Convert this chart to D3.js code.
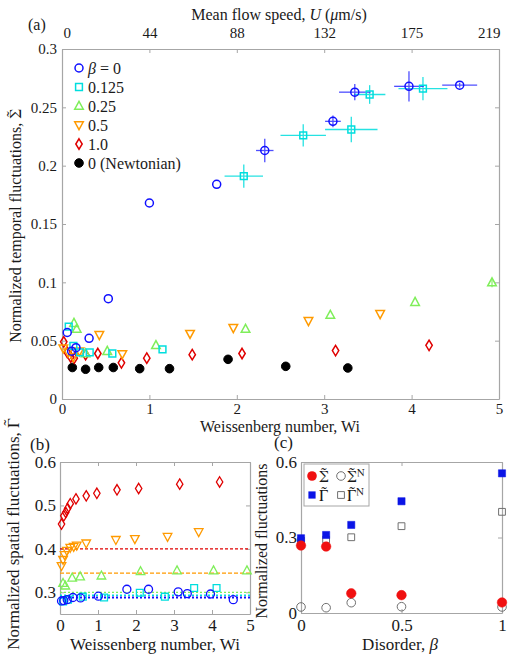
<!DOCTYPE html>
<html><head><meta charset="utf-8">
<script src="https://cdn.jsdelivr.net/npm/d3@7"></script>
<style>
body{margin:0;background:#fff}
</style>
</head><body>
<svg id="chart" width="508" height="664"></svg>
<script>
// ---------- DATA ----------
const wiTicks = [0, 1, 2, 3, 4, 5];
const wiTickLabels = ["0", "1", "2", "3", "4", "5"];
const uTickLabels = ["0", "44", "88", "132", "175", "219"];
const sigmaTicks = [0, 0.05, 0.1, 0.15, 0.2, 0.25, 0.3];
const sigmaTickLabels = ["0", "0.05", "0.1", "0.15", "0.2", "0.25", "0.3"];
const gammaTicks = [0.3, 0.4, 0.5, 0.6];
const gammaTickLabels = ["0.3", "0.4", "0.5", "0.6"];
const cYTicks = [0, 0.3, 0.6];
const cYTickLabels = ["0", "0.3", "0.6"];
const cXTicks = [0, 0.5, 1];
const cXTickLabels = ["0", "0.5", "1"];

const legendLabelsA = ["β = 0", "0.125", "0.25", "0.5", "1.0", "0 (Newtonian)"];

// panel (a): [Wi, Sigma]
const a_beta0 = [[0.06,0.057],[0.11,0.041],[0.16,0.044],[0.31,0.052],[0.53,0.086],[1.0,0.168],[1.77,0.184],[2.32,0.213],[3.10,0.238],[3.35,0.263],[3.97,0.268],[4.55,0.269]];
const a_beta0_err = [[0,0],[0,0],[0,0],[0,0],[0,0],[0,0],[0,0],[0.1,0.010],[0.09,0.005],[0.18,0.007],[0.17,0.013],[0.2,0.002]];
const a_beta0125 = [[0.077,0.062],[0.13,0.0455],[0.206,0.040],[0.317,0.040],[0.576,0.039],[1.15,0.0426],[2.08,0.191],[2.76,0.226],[3.31,0.231],[3.52,0.261],[4.13,0.266]];
const a_beta0125_err = [[0,0],[0,0],[0,0],[0,0],[0,0],[0,0],[0.22,0.010],[0.26,0.0095],[0.30,0.011],[0.18,0.008],[0.28,0.010]];
const a_beta025 = [[0.137,0.065],[0.168,0.060],[0.27,0.039],[0.518,0.041],[1.075,0.046],[2.10,0.060],[3.07,0.072],[4.04,0.083],[4.92,0.0998]];
const a_beta025_err = [[0,0],[0,0],[0,0],[0,0],[0,0],[0,0],[0,0],[0,0],[0,0.004]];
const a_beta05 = [[0.015,0.0435],[0.07,0.040],[0.13,0.036],[0.20,0.041],[0.427,0.055],[0.69,0.0386],[1.465,0.056],[1.96,0.061],[2.82,0.067],[3.64,0.073]];
const a_beta1 = [[0.02,0.049],[0.06,0.040],[0.10,0.036],[0.14,0.035],[0.27,0.038],[0.41,0.039],[0.68,0.031],[0.97,0.035],[1.49,0.038],[2.06,0.039],[3.13,0.0415],[4.20,0.046]];
const a_newt = [[0.118,0.027],[0.27,0.0255],[0.42,0.027],[0.587,0.027],[0.889,0.026],[1.23,0.026],[1.90,0.034],[2.56,0.028],[3.27,0.0266]];

// panel (b): [Wi, Gamma]
const b_beta0 = [[0.04,0.280],[0.10,0.281],[0.19,0.283],[0.34,0.288],[0.54,0.287],[1.01,0.291],[1.76,0.307],[2.33,0.307],[3.11,0.301],[3.35,0.297],[3.96,0.296],[4.56,0.283]];
const b_beta0125 = [[0.08,0.279],[0.21,0.283],[0.60,0.290],[1.16,0.288],[2.10,0.299],[2.76,0.290],[3.53,0.310],[4.12,0.310]];
const b_beta025 = [[0.08,0.321],[0.14,0.315],[0.32,0.333],[0.53,0.336],[1.09,0.338],[2.12,0.348],[3.08,0.350],[4.04,0.350],[4.92,0.350]];
const b_beta05 = [[0.04,0.361],[0.08,0.375],[0.12,0.386],[0.18,0.396],[0.27,0.403],[0.36,0.405],[0.44,0.408],[0.69,0.413],[1.47,0.421],[1.97,0.423],[2.83,0.428],[3.65,0.439]];
const b_beta1 = [[0.04,0.457],[0.10,0.476],[0.15,0.484],[0.20,0.493],[0.27,0.504],[0.42,0.515],[0.69,0.522],[0.97,0.528],[1.50,0.536],[2.07,0.539],[3.15,0.549],[4.20,0.554]];
const b_newtLevels = [0.288, 0.293, 0.300, 0.344, 0.400]; // beta 0, 0.125, 0.25, 0.5, 1

// panel (c)
const c_beta = [0, 0.125, 0.25, 0.5, 1];
const c_sigma = [0.268, 0.264, 0.078, 0.071, 0.042];
const c_sigmaN = [0.024, 0.021, 0.041, 0.025, 0.024];
const c_gamma = [0.297, 0.310, 0.350, 0.444, 0.555];
const c_gammaN = [0.287, 0.292, 0.301, 0.345, 0.402];

// ---------- STYLE ----------
const FONT = "Liberation Serif";
const GFONT = "FreeSerif";   // for tilde-accented Greek symbols
const COL = {b0:"#1010ff", b0125:"#00dede", b025:"#7fee5a", b05:"#ff9a00", b1:"#e00000", newt:"#000000"};
const AXC = "#a6a6a6";
const svg = d3.select("#chart");

function markerPath(type, s) {
  switch (type) {
    case "circle": return `M${s},0A${s},${s} 0 1,1 ${-s},0A${s},${s} 0 1,1 ${s},0Z`;
    case "square": return `M${-s},${-s}H${s}V${s}H${-s}Z`;
    case "tri": return `M0,${-s*1.1}L${s},${s*0.75}L${-s},${s*0.75}Z`;
    case "itri": return `M0,${s*1.1}L${s},${-s*0.75}L${-s},${-s*0.75}Z`;
    case "diamond": return `M0,${-s*1.3}L${s*0.8},0L0,${s*1.3}L${-s*0.8},0Z`;
  }
}
function drawMarkers(g, data, x, y, type, color, size, filled, sw) {
  g.append("g").selectAll("path").data(data).join("path")
    .attr("transform", d => `translate(${x(d[0])},${y(d[1])})`)
    .attr("d", markerPath(type, size))
    .attr("fill", filled ? color : "none")
    .attr("stroke", color).attr("stroke-width", sw || 1.5);
}
function drawErr(g, data, err, x, y, color) {
  const gg = g.append("g").attr("stroke", color).attr("stroke-width", 1.3).attr("opacity", 0.85);
  data.forEach((d, i) => {
    const e = err[i];
    if (e[0] > 0) gg.append("line").attr("x1", x(d[0]-e[0])).attr("x2", x(d[0]+e[0])).attr("y1", y(d[1])).attr("y2", y(d[1]));
    if (e[1] > 0) gg.append("line").attr("x1", x(d[0])).attr("x2", x(d[0])).attr("y1", y(d[1]-e[1])).attr("y2", y(d[1]+e[1]));
  });
}
function styleAxis(g, fs) {
  g.attr("font-family", FONT).attr("font-size", fs);
  g.selectAll(".domain").attr("stroke", AXC).attr("stroke-width", 1.2);
  g.selectAll(".tick line").attr("stroke", AXC).attr("stroke-width", 1);
  g.selectAll(".tick text").attr("fill", "#1a1a1a").attr("font-family", FONT).attr("font-size", fs);
}
function frame(x, y, xt, xl, yt, yl, fs, padX, padY, topLabels, padTop) {
  const [x0, x1] = x.range(), [y0, y1] = y.range();
  const gb = svg.append("g").attr("transform", `translate(0,${y0})`)
    .call(d3.axisBottom(x).tickValues(xt).tickFormat((d,i)=>xl[i]).tickSize(-4).tickSizeOuter(0).tickPadding(padX));
  styleAxis(gb, fs);
  const gl = svg.append("g").attr("transform", `translate(${x0},0)`)
    .call(d3.axisLeft(y).tickValues(yt).tickFormat((d,i)=>yl[i]).tickSize(-4).tickSizeOuter(0).tickPadding(padY));
  styleAxis(gl, fs);
  const gt = svg.append("g").attr("transform", `translate(0,${y1})`)
    .call(d3.axisTop(x).tickValues(xt).tickFormat((d,i)=>topLabels ? topLabels[i] : "").tickSize(-4).tickSizeOuter(0).tickPadding(padTop || 3));
  styleAxis(gt, fs);
  const gr = svg.append("g").attr("transform", `translate(${x1},0)`)
    .call(d3.axisRight(y).tickValues(yt).tickFormat(() => "").tickSize(-4).tickSizeOuter(0));
  styleAxis(gr, fs);
  return gt;
}
function txt(x, y, str, fs, anchor, rot) {
  const t = svg.append("text").attr("x", x).attr("y", y).attr("text-anchor", anchor || "start")
    .attr("font-family", FONT).attr("font-size", fs).attr("fill", "#1a1a1a").text(str);
  if (rot) t.attr("transform", `rotate(${rot},${x},${y})`);
  return t;
}

// ---------- PANEL (a) ----------
const xa = d3.scaleLinear().domain([0, 5]).range([62, 499]);
const ya = d3.scaleLinear().domain([0, 0.3]).range([399, 49]);
const topAx = frame(xa, ya, wiTicks, wiTickLabels, sigmaTicks, sigmaTickLabels, 15, 4, 5, uTickLabels, 11);
const topTexts = topAx.selectAll(".tick text").nodes();
d3.select(topTexts[0]).attr("text-anchor", "start").attr("x", 1);
d3.select(topTexts[topTexts.length - 1]).attr("text-anchor", "end").attr("x", 1);

const ga = svg.append("g");
drawErr(ga, a_beta0125, a_beta0125_err, xa, ya, COL.b0125);
drawErr(ga, a_beta0, a_beta0_err, xa, ya, "#3030ff");
drawErr(ga, a_beta025, a_beta025_err, xa, ya, COL.b025);
drawMarkers(ga, a_newt, xa, ya, "circle", COL.newt, 4.3, true, 1);
drawMarkers(ga, a_beta1, xa, ya, "diamond", COL.b1, 4, false);
drawMarkers(ga, a_beta05, xa, ya, "itri", COL.b05, 4.3, false);
drawMarkers(ga, a_beta025, xa, ya, "tri", COL.b025, 4.3, false);
drawMarkers(ga, a_beta0125, xa, ya, "square", COL.b0125, 3.4, false);
drawMarkers(ga, a_beta0, xa, ya, "circle", COL.b0, 4, false);

// legend (a)
const legTypes = [["circle",COL.b0,4,false],["square",COL.b0125,3.4,false],["tri",COL.b025,4.3,false],["itri",COL.b05,4.3,false],["diamond",COL.b1,4,false],["circle",COL.newt,4.3,true]];
legendLabelsA.forEach((lab, i) => {
  const cy = 68 + i * 19;
  const t = legTypes[i];
  svg.append("path").attr("transform", `translate(79,${cy})`).attr("d", markerPath(t[0], t[2]))
    .attr("fill", t[3] ? t[1] : "none").attr("stroke", t[1]).attr("stroke-width", t[3] ? 1 : 1.5);
  if (i === 0) {
    const tx = txt(88, cy + 5.5, "", 16);
    tx.append("tspan").attr("font-style", "italic").text("β");
    tx.append("tspan").text(" = 0");
  } else txt(88, cy + 5.5, lab, 16);
});

// titles (a)
txt(28, 30, "(a)", 16);
const tt = txt(279, 20, "", 16, "middle");
tt.append("tspan").text("Mean flow speed, ");
tt.append("tspan").attr("font-style", "italic").text("U");
tt.append("tspan").text(" (");
tt.append("tspan").attr("font-style", "italic").text("μ");
tt.append("tspan").text("m/s)");
txt(280, 432, "Weissenberg number, Wi", 16, "middle");
const yta = txt(21, 226, "Normalized temporal fluctuations, ", 16, "middle", -90);
yta.append("tspan").attr("font-family", GFONT).text("Σ̃");

// ---------- PANEL (b) ----------
const xb = d3.scaleLinear().domain([0, 5]).range([60, 250]);
const yb = d3.scaleLinear().domain([0.25, 0.6]).range([614, 462]);
frame(xb, yb, wiTicks, wiTickLabels, gammaTicks, gammaTickLabels, 17, 5, 4);
const gbp = svg.append("g");
const lineCols = [COL.b0, COL.b0125, COL.b025, COL.b05, COL.b1];
const dashes = ["2,2", "2,2", "2,2", "4,2", "3,2"];
const widths = [2, 1.5, 1.3, 1.2, 1.2];
b_newtLevels.forEach((v, i) => {
  gbp.append("line").attr("x1", xb(0)).attr("x2", xb(5)).attr("y1", yb(v)).attr("y2", yb(v))
    .attr("stroke", lineCols[i]).attr("stroke-width", widths[i]).attr("stroke-dasharray", dashes[i]);
});
drawMarkers(gbp, b_beta1, xb, yb, "diamond", COL.b1, 4, false, 1.3);
drawMarkers(gbp, b_beta05, xb, yb, "itri", COL.b05, 4.3, false, 1.3);
drawMarkers(gbp, b_beta025, xb, yb, "tri", COL.b025, 4.3, false, 1.3);
drawMarkers(gbp, b_beta0125, xb, yb, "square", COL.b0125, 3.4, false, 1.3);
drawMarkers(gbp, b_beta0, xb, yb, "circle", COL.b0, 4, false, 1.3);
txt(30, 450, "(b)", 17);
txt(155, 650, "Weissenberg number, Wi", 17, "middle");
const ytb = txt(19, 534, "Normalized spatial fluctuations, ", 17, "middle", -90);
ytb.append("tspan").attr("font-family", GFONT).text("Γ̃");

// ---------- PANEL (c) ----------
const xc = d3.scaleLinear().domain([0, 1]).range([301, 502]);
const yc = d3.scaleLinear().domain([0, 0.6]).range([613, 462]);
frame(xc, yc, cXTicks, cXTickLabels, cYTicks, cYTickLabels, 17, 6, 4);
const gc = svg.append("g");
const cSig = c_beta.map((b, i) => [b, c_sigma[i]]);
const cSigN = c_beta.map((b, i) => [b, c_sigmaN[i]]);
const cGam = c_beta.map((b, i) => [b, c_gamma[i]]);
const cGamN = c_beta.map((b, i) => [b, c_gammaN[i]]);
drawMarkers(gc, cGamN, xc, yc, "square", "#707070", 3.4, false, 1);
drawMarkers(gc, cSigN, xc, yc, "circle", "#707070", 4.3, false, 1);
drawMarkers(gc, cGam, xc, yc, "square", "#0a14e6", 3.6, true, 0.5);
drawMarkers(gc, cSig, xc, yc, "circle", "#f01010", 4.8, true, 0.5);

// legend (c)
svg.append("rect").attr("x", 304).attr("y", 464).attr("width", 65).attr("height", 42)
  .attr("fill", "#fff").attr("stroke", AXC).attr("stroke-width", 1);
svg.append("path").attr("transform", "translate(312,476)").attr("d", markerPath("circle", 4.8)).attr("fill", "#f01010");
svg.append("path").attr("transform", "translate(341,476)").attr("d", markerPath("circle", 4.3)).attr("fill", "none").attr("stroke", "#707070");
svg.append("path").attr("transform", "translate(312,495)").attr("d", markerPath("square", 3.6)).attr("fill", "#0a14e6");
svg.append("path").attr("transform", "translate(341,495)").attr("d", markerPath("square", 3.4)).attr("fill", "none").attr("stroke", "#707070");
txt(319, 482, "Σ̃", 16).attr("font-family", GFONT);
const sn = txt(347, 482, "Σ̃", 16).attr("font-family", GFONT);
sn.append("tspan").attr("dy", -6).attr("font-size", 11).text("N");
txt(319, 501, "Γ̃", 16).attr("font-family", GFONT);
const gn = txt(347, 501, "Γ̃", 16).attr("font-family", GFONT);
gn.append("tspan").attr("dy", -6).attr("font-size", 11).text("N");

txt(274, 448, "(c)", 17);
const xct = txt(400, 650, "Disorder, ", 17, "middle");
xct.append("tspan").attr("font-style", "italic").text("β");
txt(267, 541, "Normalized fluctuations", 16, "middle", -90);
</script>
</body></html>
